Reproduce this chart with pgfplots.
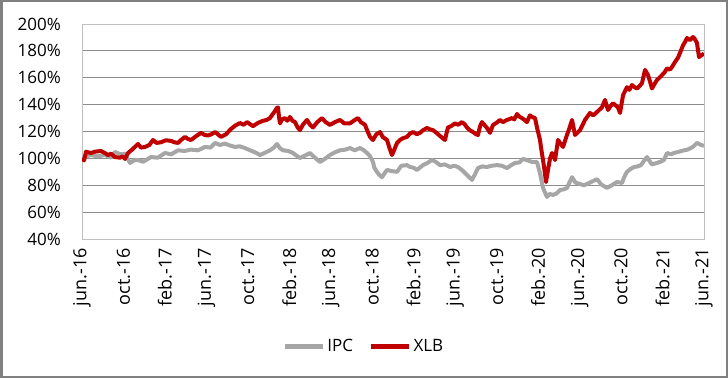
\documentclass[border=0pt]{standalone}
\usepackage{fontspec}
\setmainfont{Open Sans}
\usepackage{pgfplots}
\pgfplotsset{compat=1.18}
\definecolor{ipc}{HTML}{A6A6A6}
\definecolor{xlb}{HTML}{C00000}
\definecolor{gridc}{HTML}{8C8C8C}
\definecolor{framec}{HTML}{BFBFBF}
\definecolor{outerc}{HTML}{808080}
\begin{document}
\begin{tikzpicture}[font=\fontsize{17}{20}\selectfont]
\useasboundingbox (0,0) rectangle (728pt,378pt);
\draw[outerc, line width=2.5pt] (1.25pt,1.25pt) rectangle (726.75pt,376.75pt);
\begin{axis}[
  at={(82pt,139pt)}, anchor=south west,
  scale only axis, width=622pt, height=215pt,
  xmin=0, xmax=60, ymin=40, ymax=200,
  xtick={0,4,...,60},
  xticklabels={jun.-16,oct.-16,feb.-17,jun.-17,oct.-17,feb.-18,jun.-18,oct.-18,feb.-19,jun.-19,oct.-19,feb.-20,jun.-20,oct.-20,feb.-21,jun.-21},
  ytick={40,60,...,180},
  yticklabels={40\%,60\%,80\%,100\%,120\%,140\%,160\%,180\%},
  extra y ticks={200}, extra y tick labels={200\%},
  extra y tick style={grid=none},
  ymajorgrids, grid style={gridc, line width=0.8pt},
  axis line style={framec, line width=0.8pt},
  major tick length=0pt,
  /pgf/number format/assume math mode=true,
  xticklabel style={yshift=-9pt, rotate=90, anchor=east, inner sep=0pt, font=\fontsize{18}{21}\selectfont},
  yticklabel style={xshift=-21pt, anchor=east, inner sep=0pt, font=\fontsize{17}{20}\selectfont},
  legend style={at={(0.4534,-0.5)}, anchor=center, draw=none, fill=none, legend columns=2, font=\fontsize{17}{20}\selectfont, /tikz/every even column/.append style={column sep=14pt}},
  legend image code/.code={\draw[#1, line width=4.5pt] (0pt,0pt) -- (38pt,0pt);},
]
\addplot[ipc, line width=4pt, line join=round] coordinates {
(0,100)(0.4,101.5)(0.87,102.5)(1.5,101.5)(2.22,102.5)(2.8,100.5)(3.18,104.8)(3.7,103)(4.15,103.5)(4.63,96.6)(5.0,98.5)(5.4,98.8)(5.9,97.5)(6.66,101)(7.3,100.5)(8.01,104)(8.6,103)(9.26,106)(9.9,105.5)(10.51,106.5)(11.2,106)(11.86,108.5)(12.4,108)(12.83,111.5)(13.3,110)(13.79,111)(14.3,109.5)(14.76,108.5)(15.2,109)(15.72,107.7)(16.21,106)(16.7,104.5)(17.17,102.5)(17.6,104)(18.13,106)(18.5,108)(18.81,110.7)(19.1,107.5)(19.39,106)(19.9,105.5)(20.35,104)(20.7,102)(21.03,100.3)(21.5,102)(21.99,104)(22.4,101)(22.96,97.3)(23.4,99.5)(23.92,102.5)(24.4,104.5)(24.89,106)(25.4,106.5)(25.85,107.7)(26.3,106)(26.82,107.7)(27.2,106)(27.49,104)(27.8,101.5)(28.07,97.3)(28.2,93)(28.46,89.9)(28.7,87.5)(28.94,86)(29.2,89)(29.42,91.4)(29.9,90.5)(30.39,90)(30.8,94.5)(31.35,95)(31.64,93.6)(32.0,93)(32.31,91.4)(32.89,95)(33.3,96.5)(33.76,98.8)(34.1,97.5)(34.53,95)(35.0,95.5)(35.50,93.6)(35.9,94.5)(36.27,93.6)(36.7,91)(37.14,87.6)(37.62,84)(37.9,88)(38.20,92.8)(38.6,94)(39.07,93.6)(39.5,94.5)(40.03,95)(40.5,94.5)(41.00,92.8)(41.4,95)(41.77,96.6)(42.2,97)(42.54,99.6)(43.0,98.5)(43.41,97.3)(43.89,97.3)(44.18,89)(44.47,78)(44.85,71.3)(45.1,73.5)(45.43,72.8)(45.8,74)(46.11,76.5)(46.5,77)(46.78,78)(47.0,81.7)(47.27,86)(47.6,82)(48.0,81)(48.42,80)(49.0,82)(49.68,84.5)(50.1,80.5)(50.64,78)(51.1,80)(51.61,82.4)(52.09,81.7)(52.3,86)(52.57,90)(52.9,92)(53.25,93.6)(53.6,94)(53.92,95)(54.2,98)(54.50,101)(54.75,98)(54.98,95.5)(55.46,96.6)(55.8,97.5)(56.14,98.8)(56.43,104)(56.8,103)(57.10,104)(57.6,105)(58.07,106)(58.4,106.5)(58.74,107.7)(59.0,109)(59.32,111.5)(59.7,110)(60,109.3)
};
\addlegendentry{IPC}
\addplot[xlb, line width=4pt, line join=round] coordinates {
(0,100)(0.2,98.5)(0.39,105)(0.58,104.5)(0.9,104)(1.25,105)(1.83,105.5)(2.2,104)(2.51,102.5)(2.8,103.5)(3.18,101)(3.67,100.5)(3.9,101.5)(4.15,99.6)(4.44,104)(4.9,107)(5.40,110.7)(5.7,108)(6.08,108.5)(6.5,110)(6.85,113.7)(7.2,111.5)(7.62,112)(8.1,113.5)(8.59,113)(8.9,112)(9.26,111.5)(9.6,114)(9.94,116)(10.2,114.5)(10.51,113.7)(11.0,116.5)(11.48,119)(11.8,117.5)(12.15,117)(12.5,118)(12.83,119.6)(13.1,118)(13.41,116)(13.9,118)(14.37,121.9)(14.8,124.5)(15.24,126.3)(15.6,125)(15.92,127)(16.2,125.5)(16.49,124)(17.0,126.5)(17.46,128)(17.8,128.5)(18.13,130)(18.5,134)(18.81,137.5)(18.91,138)(19.0,131)(19.10,126)(19.3,129)(19.58,130)(19.8,128)(20.06,130.8)(20.3,128)(20.55,127)(20.8,123)(21.03,121)(21.3,125)(21.70,128.6)(22.0,125)(22.28,123)(22.7,127)(23.15,130)(23.5,127)(23.92,124.9)(24.4,127)(24.89,128.6)(25.3,126)(25.85,126)(26.2,128)(26.62,130)(26.9,127)(27.30,125)(27.5,121)(27.78,116)(28.07,113.7)(28.4,118)(28.75,119.6)(29.0,116)(29.42,113.7)(29.65,108)(29.90,102.5)(30.1,106)(30.39,111.5)(30.67,113.7)(30.96,115)(31.35,116)(31.64,118.5)(31.93,119.6)(32.3,118)(32.60,119)(32.9,121)(33.28,122.6)(33.6,121.5)(33.86,121)(34.2,119)(34.53,116.7)(35.01,113.7)(35.30,123)(35.6,124)(35.98,126)(36.3,125)(36.65,127)(36.9,125.5)(37.14,123)(37.4,121)(37.72,119.6)(38.0,118)(38.20,117.4)(38.4,124)(38.58,127)(38.8,125)(39.07,122.6)(39.36,119)(39.65,124.9)(40.0,126.5)(40.32,128.6)(40.6,127)(41.00,128.6)(41.48,130)(41.7,129)(41.96,133)(42.2,131)(42.44,130)(42.7,128.5)(42.92,127)(43.21,132)(43.5,130.5)(43.70,130)(43.89,123)(44.18,113.7)(44.3,107)(44.47,98.8)(44.6,92)(44.76,82.4)(44.95,91.4)(45.15,100)(45.34,104)(45.63,98.8)(45.92,113.7)(46.11,111.5)(46.40,108.5)(46.78,117.4)(47.0,122)(47.27,128.6)(47.56,117.4)(48.04,121)(48.3,125)(48.52,128.6)(49.00,133.8)(49.3,132)(49.68,134.5)(50.16,138)(50.45,143.5)(50.74,136)(51.0,139)(51.22,141)(51.70,138)(51.90,133.8)(52.19,147)(52.57,153)(52.8,151)(53.05,154.6)(53.3,153)(53.54,152)(53.8,154)(54.02,156)(54.31,165.8)(54.60,162)(54.8,157)(54.98,152)(55.2,155)(55.46,158.3)(55.7,160)(55.95,162)(56.2,164)(56.43,167)(56.7,166)(56.91,168)(57.20,171.7)(57.5,175)(57.68,178.4)(57.97,184)(58.2,187)(58.36,189.6)(58.65,188)(58.94,190.3)(59.1,189)(59.32,185.9)(59.52,175.4)(59.81,177)(60,178)
};
\addlegendentry{XLB}
\end{axis}
\end{tikzpicture}
\end{document}
